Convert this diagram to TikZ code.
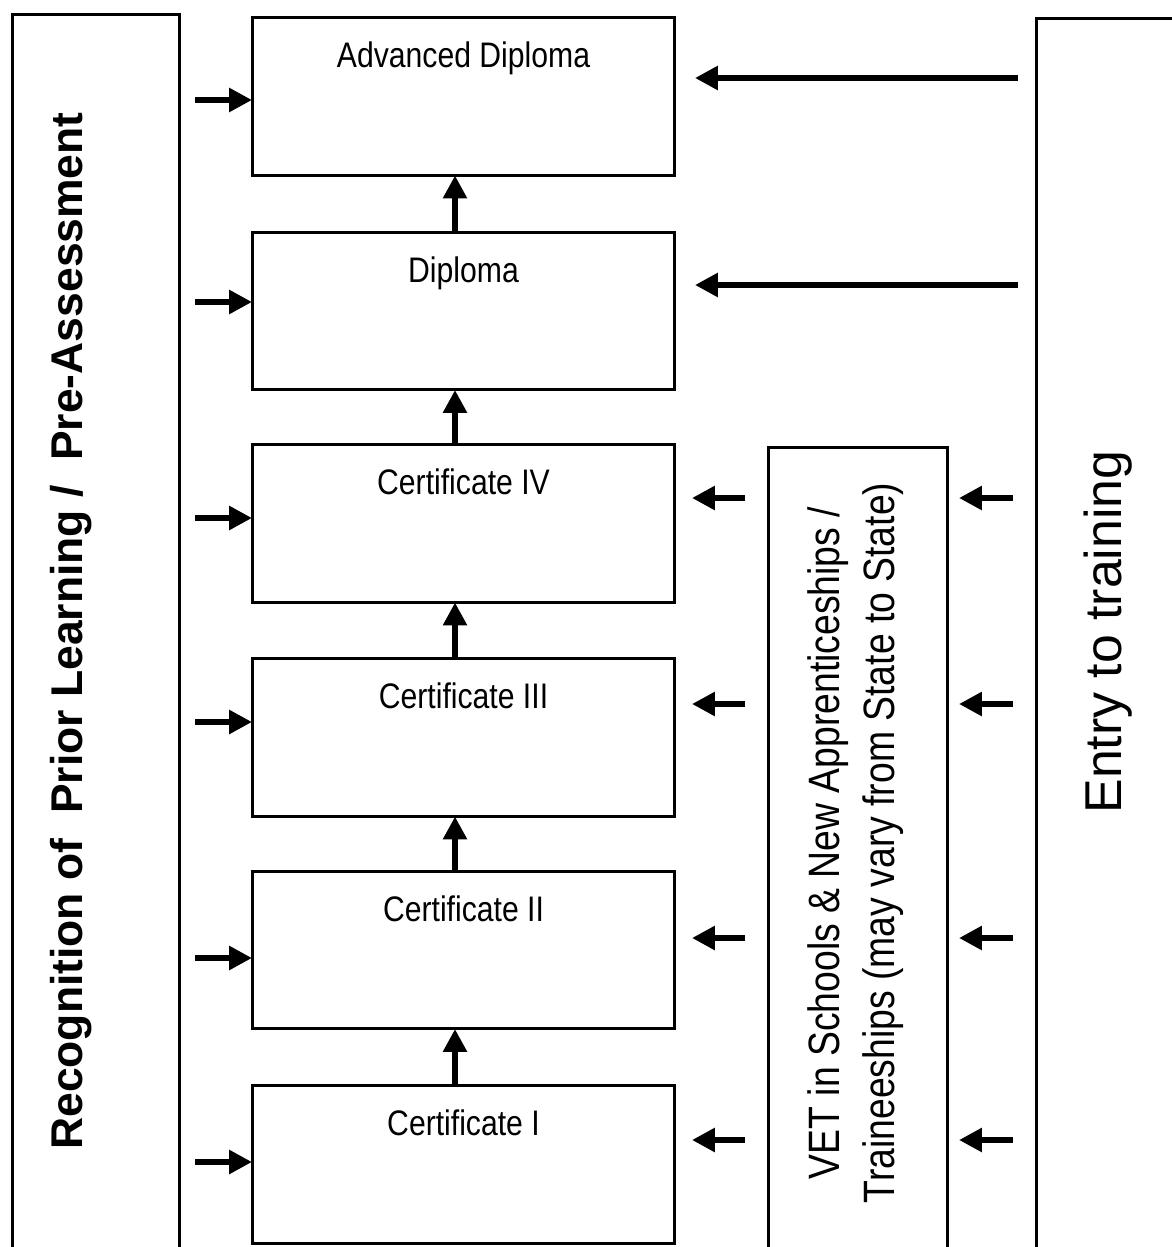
\documentclass[tikz,border=0pt]{standalone}
\usepackage{fontspec}
\setmainfont{Liberation Sans}
\newfontfamily\narrowsf[FakeStretch=0.85]{Liberation Sans}
\usetikzlibrary{calc}
\usetikzlibrary{arrows.meta}

\begin{document}
\begin{tikzpicture}[x=0.02cm, y=-0.02cm,
    frame/.style={draw, line width=0.06cm, inner sep=0, outer sep=0},
    qual/.style={frame, minimum width=8.46cm, minimum height=3.16cm},
    title/.style={anchor=base, font=\narrowsf\fontsize{20.2}{24}\selectfont},
    arr/.style={-{Triangle[length=0.46cm, width=0.46cm]}, line width=0.12cm}]
  \useasboundingbox (0,0) rectangle (1172,1247);
  \clip (0,0) rectangle (1172,1247);

  % qualification boxes
  \node [qual] (adv) at (463.5,96.5) {};
  \node [qual] (dip) at (463.5,311) {};
  \node [qual] (c4) at (463.5,523.5) {};
  \node [qual] (c3) at (463.5,737.5) {};
  \node [qual] (c2) at (463.5,950) {};
  \node [qual] (c1) at (463.5,1164) {};
  \foreach \n/\t in {adv/Advanced Diploma, dip/Diploma, c4/Certificate IV,
      c3/Certificate III, c2/Certificate II, c1/Certificate I}
    \node [title] (\n-t) at ([yshift=-1.0cm]\n.north) {\t};

  % side boxes
  \node [frame, minimum width=3.36cm, minimum height=25.72cm] (rpl) at (96,657) {};
  \node [frame, minimum width=3.6cm, minimum height=17.06cm] (vet) at (858,873.5) {};
  \node [frame, minimum width=3.28cm, minimum height=25.64cm] (entry) at (1118,659) {};

  \node [rotate=90, anchor=base, font=\bfseries\fontsize{25.3}{30}\selectfont] (rpl-t)
    at (82,631) {Recognition of\ \ Prior Learning /\ \ Pre-Assessment};
  \node [rotate=90, inner sep=0, align=center, font=\narrowsf\fontsize{25}{31.3}\selectfont] (vet-t)
    at (856,843) {VET in Schools \& New Apprenticeships /\\Traineeships (may vary from State to State)};
  \node [rotate=90, anchor=base, font=\fontsize{29.5}{35}\selectfont] (entry-t)
    at (1121,632) {Entry to training};

  % progression
  \foreach \a/\b in {c1/c2, c2/c3, c3/c4, c4/dip, dip/adv}
    \draw [arr] ([xshift=-0.17cm]\a.north) -- ([xshift=-0.17cm]\b.south);

  % recognition arrows
  \foreach \n/\y in {adv/100, dip/302, c4/518, c3/722, c2/958, c1/1162} {
    \coordinate (rpl-\n) at (195,\y);
    \draw [arr] (rpl-\n) -- (rpl-\n -| \n.west);
  }

  % entry arrows
  \foreach \n/\y in {adv/78, dip/285} {
    \coordinate (ent-\n) at (1018,\y);
    \draw [arr, shorten >=0.4cm] (ent-\n) -- (ent-\n -| \n.east);
  }
  \foreach \n/\y in {c4/498, c3/704, c2/938, c1/1140} {
    \coordinate (ent-\n) at (1013,\y);
    \coordinate (vet-\n) at (745,\y);
    \draw [arr, shorten >=0.22cm] (ent-\n) -- (ent-\n -| vet.east);
    \draw [arr, shorten >=0.34cm] (vet-\n) -- (vet-\n -| \n.east);
  }
\end{tikzpicture}
\end{document}
